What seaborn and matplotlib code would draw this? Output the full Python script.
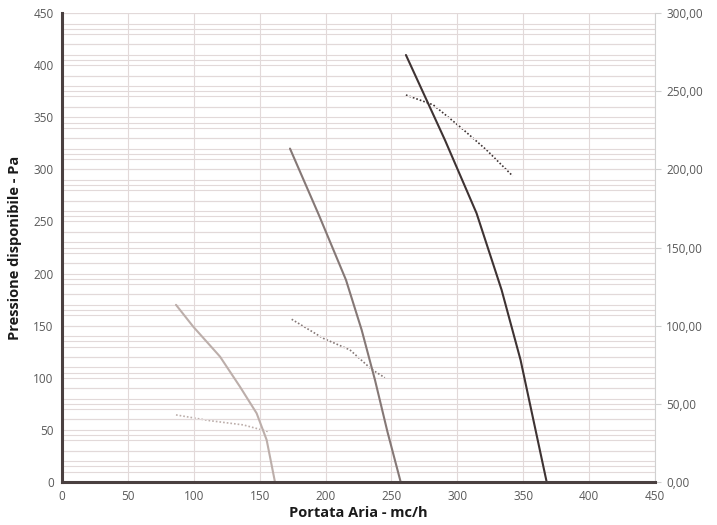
import numpy as np
import pandas as pd
import matplotlib
matplotlib.use("Agg")
import matplotlib.pyplot as plt
import seaborn as sns
from matplotlib.ticker import MultipleLocator, FuncFormatter

# --- dati ---
# curve di pressione (asse sinistro, Pa)
x_v1 = [86.5, 99.6, 119.9, 135, 147.7, 155.3, 161.6]
p_v1 = [170, 149, 120.3, 91.5, 65.9, 40.3, 0]
x_v2 = [173, 195, 215.5, 227.4, 237.5, 247, 257]
p_v2 = [320, 256, 193.9, 145.9, 97.9, 48, 0]
x_v3 = [261, 290.6, 314.6, 333.6, 348, 367.8]
p_v3 = [409.8, 328.2, 257.9, 184.3, 117, 0]

# curve tratteggiate (asse destro)
x_d1 = [86.5, 112.3, 137.6, 156.5]
w_d1 = [42.9, 39.2, 36.5, 32.2]
x_d2 = [174.3, 198.3, 218.5, 234.9, 245]
w_d2 = [104.1, 91.9, 84.5, 72.1, 66.7]
x_d3 = [261, 281.7, 302, 322.2, 342]
w_d3 = [247.6, 241.3, 227.3, 212.4, 195.8]

colori = ["#bcaeaa", "#857876", "#3e3333"]

sns.set_style("white")
plt.rcParams['font.family'] = ['Open Sans', 'DejaVu Sans']

fig = plt.figure(figsize=(7.17, 5.25), dpi=100)
ax = fig.add_axes([0.0865, 0.082, 0.827, 0.893])
ax2 = ax.twinx()

grid_col = "#e2d9d9"

# asse destro: griglia ogni 10 + curve tratteggiate
ax2.set_ylim(0, 300)
ax2.yaxis.set_major_locator(MultipleLocator(50))
ax2.yaxis.set_minor_locator(MultipleLocator(10))
ax2.grid(True, which="both", axis="y", color=grid_col, lw=0.8)
ax2.yaxis.set_major_formatter(FuncFormatter(lambda v, p: f"{v:.2f}".replace(".", ",")))
for xs, ws, c in [(x_d1, w_d1, colori[0]), (x_d2, w_d2, colori[1]), (x_d3, w_d3, colori[2])]:
    sns.lineplot(x=xs, y=ws, ax=ax2, color=c, lw=1.2, linestyle=(0, (1, 1.2)))
ax2.tick_params(axis="y", which="major", length=4, color="#cfcfcf", labelsize=8.5,
                labelcolor="#595959", pad=4)
ax2.tick_params(axis="y", which="minor", length=0)
ax2.set_ylabel("")

# asse sinistro davanti
ax.set_zorder(ax2.get_zorder() + 1)
ax.patch.set_visible(False)

ax.set_xlim(0, 450)
ax.set_ylim(0, 450)
ax.xaxis.set_major_locator(MultipleLocator(50))
ax.yaxis.set_major_locator(MultipleLocator(50))
ax.yaxis.set_minor_locator(MultipleLocator(10))
ax.grid(True, which="both", axis="y", color=grid_col, lw=0.8)
ax.grid(True, which="major", axis="x", color=grid_col, lw=0.8)

for xs, ps, c in [(x_v1, p_v1, colori[0]), (x_v2, p_v2, colori[1]), (x_v3, p_v3, colori[2])]:
    sns.lineplot(x=xs, y=ps, ax=ax, color=c, lw=1.5)

ax.spines["top"].set_visible(False)
ax2.spines["top"].set_visible(False)
ax.spines["right"].set_visible(False)
ax2.spines["left"].set_visible(False)
ax2.spines["bottom"].set_visible(False)
ax2.spines["right"].set_color("#d0d0d0")
ax2.spines["right"].set_linewidth(0.8)
ax.spines["left"].set_color("#4a4040")
ax.spines["left"].set_linewidth(2.2)
ax.spines["bottom"].set_color("#4a4040")
ax.spines["bottom"].set_linewidth(2.2)

ax.tick_params(axis="both", which="both", length=0, labelsize=8.5, labelcolor="#595959")
ax.tick_params(axis="x", pad=6)
ax.tick_params(axis="y", pad=6)

ax.set_xlabel("Portata Aria - mc/h", fontsize=10.5, fontweight="bold", color="#1a1a1a", labelpad=2)
ax.set_ylabel("Pressione disponibile - Pa", fontsize=10.5, fontweight="bold", color="#1a1a1a", labelpad=8)

fig.savefig("out.png", dpi=100)
